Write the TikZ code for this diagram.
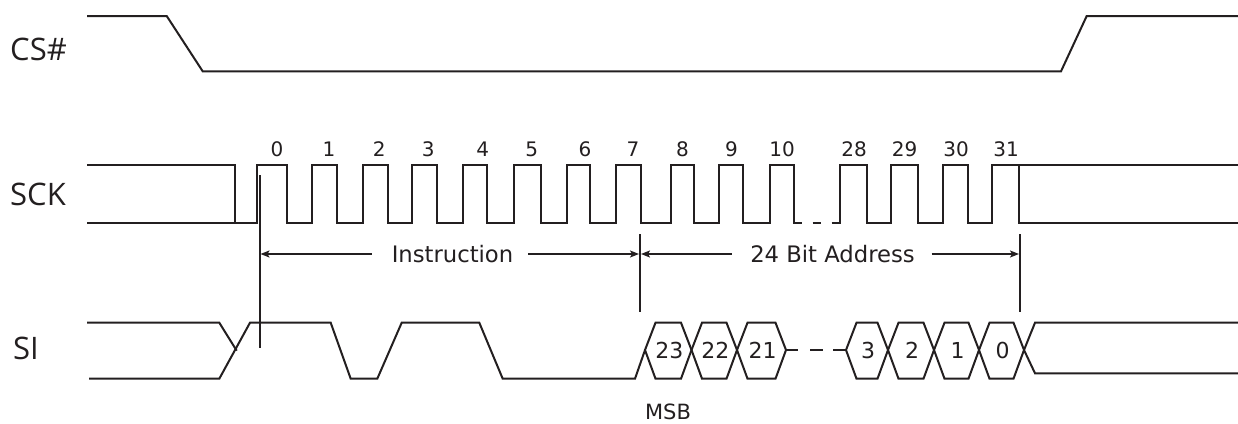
\documentclass[tikz,border=0pt]{standalone}
\usepackage{fontspec}
\setmainfont{DejaVu Sans}
\newfontfamily\labfont{Open Sans}
\usetikzlibrary{arrows.meta}
\definecolor{ink}{RGB}{35,31,32}
\begin{document}
\begin{tikzpicture}[x=1pt,y=-1pt,
  sig/.style={line width=2pt, line join=miter, draw=ink},
  vline/.style={line width=2pt, draw=ink},
  arr/.style={line width=1.6pt, draw=ink, -{Stealth[length=9pt,width=7pt,inset=2pt]}},
  siglabel/.style={font=\labfont\fontsize{31}{31}\selectfont, text=ink, anchor=west, inner sep=0pt},
  num/.style={font=\fontsize{20}{20}\selectfont, text=ink, inner sep=0pt},
  hexnum/.style={font=\fontsize{22}{22}\selectfont, text=ink, inner sep=0pt},
  txt/.style={font=\fontsize{22.7}{22.7}\selectfont, text=ink, inner sep=0pt}]
\useasboundingbox (0,0) rectangle (1238,423);

% signal names
\node[siglabel] (lcs) at (10,49.5) {CS\#};
\node[siglabel] (lsck) at (10,194.3) {SCK};
\node[siglabel] (lsi) at (13,348) {SI};

% CS#
\draw[sig] (87,16) -- (166.7,16) -- (202.7,71.3) -- (1061,71.3) -- (1086.7,16) -- (1238,16);

% SCK
\draw[sig] (87,165) -- (235,165) -- (235,223.3);
\draw[sig] (87,223.3)
  foreach \r/\f in {257.3/287.3, 311.7/337.3, 363.3/388.3, 411.7/436.7, 463.3/487.3,
                    514/540.7, 566.7/590, 616/640.7, 670.7/694, 719.3/743.3, 770/794}
  { -- (\r,223.3) -- (\r,165) -- (\f,165) -- (\f,223.3) } -- (801.7,223.3);
\draw[sig] (812.7,223.3) -- (820.7,223.3);
\draw[sig] (831.7,223.3)
  foreach \r/\f in {840/867.3, 890.7/917.7, 943.3/968.3, 991.7/1019.3}
  { -- (\r,223.3) -- (\r,165) -- (\f,165) -- (\f,223.3) } -- (1238,223.3);
\draw[sig] (1019.3,165) -- (1238,165);

% clock numbers
\foreach \x/\t [count=\i] in {277/0, 329/1, 379.3/2, 428.3/3, 482.7/4, 531.7/5, 585/6, 633/7,
                  682.5/8, 731.5/9, 782/10, 854/28, 904.5/29, 956/30, 1006/31}
  \node[num] (n\i) at (\x,149) {\t};

% marker lines
\draw[vline] (259.5,175) -- (259.5,348);
\draw[vline] (640,234) -- (640,312);
\draw[vline] (1020,234) -- (1020,312);

% span arrows
\node[txt] (instr) at (452.5,254) {Instruction};
\node[txt] (addr) at (832.5,254) {24 Bit Address};
\coordinate (i1) at (371.7,254);
\coordinate (i2) at (528,254);
\coordinate (a1) at (731.7,254);
\coordinate (a2) at (931.7,254);
\coordinate (m1) at (260.5,254);
\coordinate (m2l) at (639,254);
\coordinate (m2r) at (641,254);
\coordinate (m3) at (1019,254);
\draw[arr] (i1) -- (m1);
\draw[arr] (i2) -- (m2l);
\draw[arr] (a1) -- (m2r);
\draw[arr] (a2) -- (m3);

% SI
\draw[sig] (87,322.7) -- (219.3,322.7) -- (236.7,350.7);
\draw[sig] (89,378.7) -- (219.3,378.7) -- (250,322.7) -- (330.7,322.7) -- (350.7,378.7)
  -- (377.3,378.7) -- (401.7,322.7) -- (479.3,322.7) -- (502.7,378.7) -- (635,378.7) -- (645,350);

% data bytes
\foreach \l/\r/\t in {645/691.5/23, 691.5/737/22, 737/786/21, 846/888/3, 888/934/2, 934/979/1, 979/1024/0}{
  \draw[sig] (\l,350) -- (\l+10.5,322.7) -- (\r-10.5,322.7) -- (\r,350) -- (\r-10.5,378.7) -- (\l+10.5,378.7) -- cycle;
  \node[hexnum] at ({(\l+\r)/2+1},350) {\t};
}
\draw[sig] (786,350) -- (798.3,350);
\draw[sig] (810,350) -- (822.7,350);
\draw[sig] (833.3,350) -- (846,350);
\draw[sig] (1024,350) -- (1035,322.7) -- (1238,322.7);
\draw[sig] (1024,350) -- (1035,373.3) -- (1238,373.3);

\node[num, font=\fontsize{21}{21}\selectfont] (msb) at (668,411.5) {MSB};
\end{tikzpicture}
\end{document}
